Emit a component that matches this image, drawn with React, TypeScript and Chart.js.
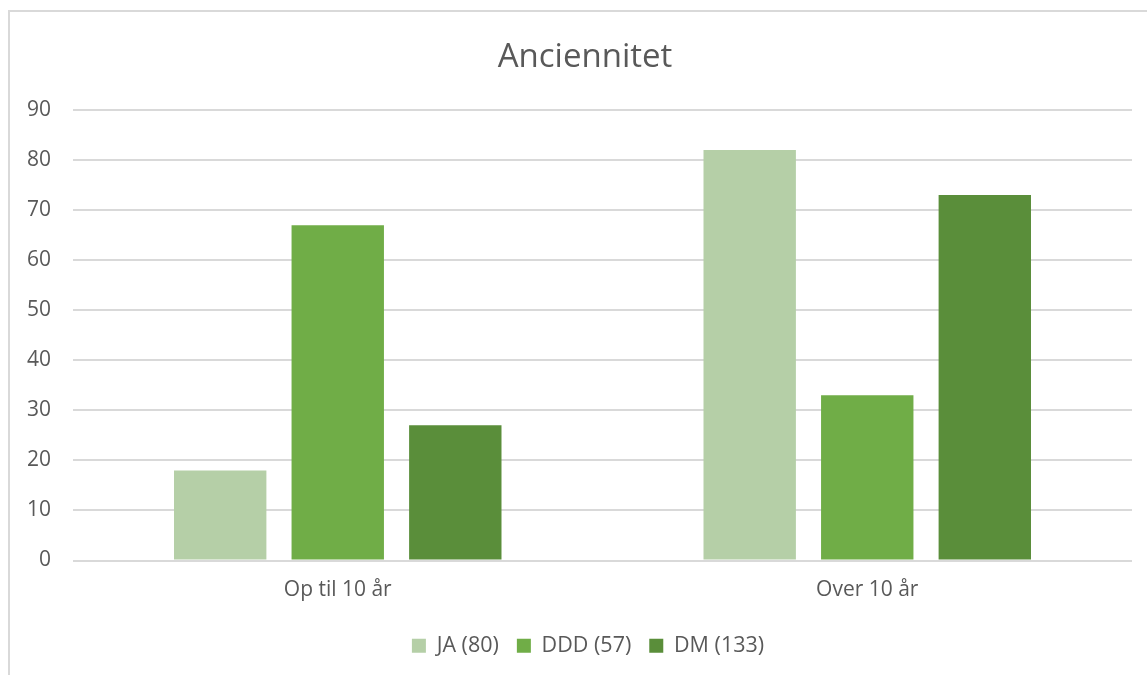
import React, { useEffect, useRef } from "react";
import { Chart, registerables } from "chart.js";

Chart.register(...registerables);

const categories = ["Op til 10 år", "Over 10 år"];
const seriesNames = ["JA (80)", "DDD (57)", "DM (133)"];
const jaValues = [18, 82];
const dddValues = [67, 33];
const dmValues = [27, 73];
const seriesColors = ["#B5CFA7", "#70AD47", "#5A8E3A"];
const yMin = 0;
const yMax = 90;
const yStep = 10;
const titleText = "Anciennitet";

const FONT = "'Open Sans', 'Noto Sans', sans-serif";
const TEXT_COLOR = "#595959";
const GRID_COLOR = "#D9D9D9";

// Shift title and legend horizontally to centre them like the reference
const shiftBoxes = {
  id: "shiftBoxes",
  afterLayout(chart: any) {
    const t = chart.titleBlock;
    if (t) {
      t.left += 14;
      t.right += 14;
    }
    const l = chart.legend;
    if (l) {
      l.left += 17;
      l.right += 17;
    }
  },
};

export default function App() {
  const canvasRef = useRef<HTMLCanvasElement | null>(null);

  useEffect(() => {
    const canvas = canvasRef.current;
    if (!canvas) return;
    const seriesValues = [jaValues, dddValues, dmValues];
    const chart = new Chart(canvas, {
      type: "bar",
      data: {
        labels: categories,
        datasets: seriesNames.map((name, i) => ({
          label: name,
          data: seriesValues[i],
          backgroundColor: seriesColors[i],
          borderWidth: 0,
          categoryPercentage: 0.666,
          barPercentage: 0.786,
        })),
      },
      options: {
        responsive: false,
        devicePixelRatio: 1,
        animation: false,
        layout: { padding: { left: 0, right: 15, top: 0, bottom: 8.5 } },
        plugins: {
          title: {
            display: true,
            text: titleText,
            color: TEXT_COLOR,
            font: { family: FONT, size: 33, weight: "normal" },
            padding: { top: 26, bottom: 32.4 },
          },
          legend: {
            position: "bottom",
            labels: {
              color: TEXT_COLOR,
              font: { family: FONT, size: 21.5 },
              boxWidth: 14,
              boxHeight: 14,
              padding: 18,
            },
          },
          tooltip: { enabled: false },
        },
        scales: {
          x: {
            grid: { display: false, drawTicks: false },
            border: { display: false },
            ticks: {
              color: TEXT_COLOR,
              font: { family: FONT, size: 21 },
              padding: 17,
            },
            afterFit: (scale: any) => {
              scale.height = 56.5;
            },
          },
          y: {
            min: yMin,
            max: yMax,
            grid: { color: GRID_COLOR, lineWidth: 2, drawTicks: false },
            border: { display: false },
            ticks: {
              stepSize: yStep,
              color: TEXT_COLOR,
              font: { family: FONT, size: 21 },
              padding: 22,
            },
            afterFit: (scale: any) => {
              scale.width = 63;
            },
          },
        },
      },
      plugins: [shiftBoxes],
    });
    return () => chart.destroy();
  }, []);

  return (
    <div
      style={{
        position: "fixed",
        left: 8,
        top: 10,
        borderLeft: `2px solid ${GRID_COLOR}`,
        borderTop: `2px solid ${GRID_COLOR}`,
        background: "#fff",
      }}
    >
      <canvas ref={canvasRef} width={1137} height={663} style={{ display: "block" }} />
    </div>
  );
}
